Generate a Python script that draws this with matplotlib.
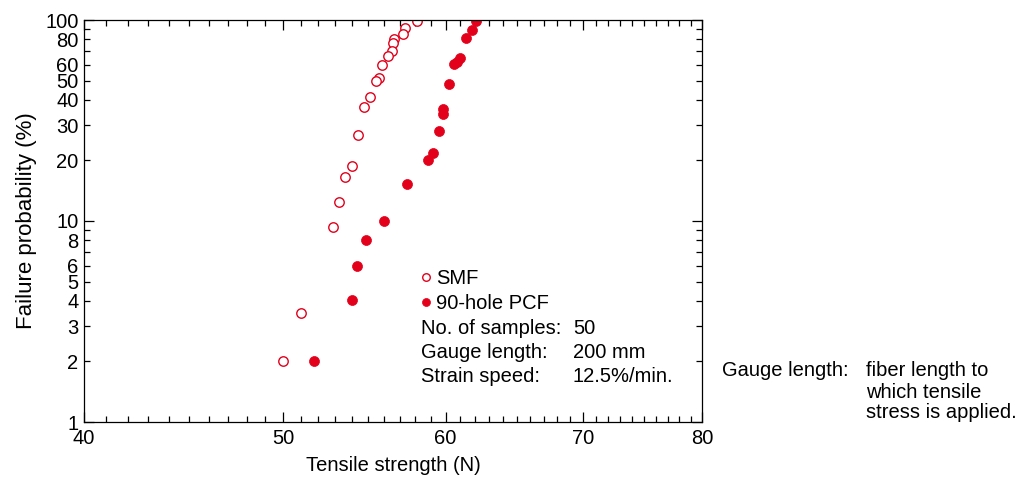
import numpy as np
import matplotlib
matplotlib.use("Agg")
import matplotlib.pyplot as plt
from matplotlib.ticker import FixedLocator, FixedFormatter, NullFormatter

plt.rcParams['font.family'] = ['Liberation Sans', 'DejaVu Sans']

# data (tensile strength N, failure probability %)
smf_strength = [58.10, 57.34, 57.19, 56.66, 56.59, 56.49, 56.24, 55.86, 55.71, 55.48,
                55.13, 54.76, 54.39, 54.05, 53.61, 53.23, 52.87, 51.04, 50.00]
smf_prob = [99.2, 91.6, 84.9, 80.4, 76.6, 70.4, 66.4, 59.5, 51.4, 49.5,
            41.4, 37.0, 26.8, 18.8, 16.5, 12.5, 9.37, 3.50, 2.0]

pcf_strength = [62.08, 61.78, 61.37, 60.98, 60.75, 60.59, 60.23, 59.85, 59.85, 59.54,
                59.14, 58.81, 57.49, 56.00, 54.88, 54.35, 54.03, 51.77]
pcf_prob = [99.2, 89.2, 81.1, 64.9, 62.0, 60.2, 47.8, 35.9, 34.1, 27.9,
            21.9, 20.0, 15.2, 10.0, 8.0, 6.0, 4.03, 2.0]

x_major = [40, 50, 60, 70, 80]
y_labels = [1, 2, 3, 4, 5, 6, 8, 10, 20, 30, 40, 50, 60, 80, 100]

red = '#E2001A'
W, H = 1019, 478
fs = 14.5

fig = plt.figure(figsize=(W / 100, H / 100), dpi=100)
ax = fig.add_axes([84 / W, 1 - 422 / H, 618 / W, 402 / H])

ax.plot(smf_strength, smf_prob, 'o', ms=6.8, mfc='white', mec=red, mew=1.0,
        ls='none', label='SMF')
ax.plot(pcf_strength, pcf_prob, 'o', ms=7.2, mfc=red, mec=red, mew=0.5,
        ls='none', label='90-hole PCF')

ax.set_xscale('log')
ax.set_yscale('log')
ax.set_xlim(40, 80)
ax.set_ylim(1, 100)

# x ticks
ax.xaxis.set_major_locator(FixedLocator(x_major))
ax.xaxis.set_major_formatter(FixedFormatter([str(v) for v in x_major]))
ax.xaxis.set_minor_locator(FixedLocator([v for v in range(41, 80) if v % 10]))
ax.xaxis.set_minor_formatter(NullFormatter())

# y ticks: long at decades, short elsewhere, labels on some
y_minor = [m * d for d in (1, 10) for m in range(2, 10)]
ax.yaxis.set_major_locator(FixedLocator([1, 10, 100]))
ax.yaxis.set_major_formatter(FixedFormatter(['1', '10', '100']))
ax.yaxis.set_minor_locator(FixedLocator(y_minor))
ax.yaxis.set_minor_formatter(FixedFormatter(
    [str(v) if v in y_labels else '' for v in y_minor]))

ax.tick_params(which='both', direction='in', top=True, right=True,
               labelsize=fs, color='black', width=0.9)
ax.tick_params(which='major', length=7)
ax.tick_params(which='minor', length=4.5)
ax.tick_params(axis='x', which='both', pad=5)
ax.tick_params(axis='y', which='both', pad=4)
for s in ax.spines.values():
    s.set_linewidth(0.9)

ax.set_xlabel('Tensile strength (N)', fontsize=fs, labelpad=6)
ax.set_ylabel('Failure probability (%)', fontsize=16, labelpad=6)

leg = ax.legend(loc='upper left', bbox_to_anchor=(421 / W, 1 - 269 / H),
                bbox_transform=fig.transFigure, frameon=False, fontsize=fs,
                handlelength=0.5, handletextpad=0.25, labelspacing=0.3,
                markerscale=0.8, borderpad=0, borderaxespad=0)

info = [('No. of samples:', '50'),
        ('Gauge length:', '200 mm'),
        ('Strain speed:', '12.5%/min.')]
for i, (k, v) in enumerate(info):
    yy = 1 - (329 + 24 * i) / H
    fig.text(421 / W, yy, k, fontsize=fs, va='center')
    fig.text(573 / W, yy, v, fontsize=fs, va='center')

fig.text(722 / W, 1 - 371 / H, 'Gauge length:', fontsize=fs, va='center')
note = ['fiber length to', 'which tensile', 'stress is applied.']
for i, line in enumerate(note):
    fig.text(866 / W, 1 - (371 + 21 * i) / H, line, fontsize=fs, va='center')

fig.savefig('out.png', dpi=100)
